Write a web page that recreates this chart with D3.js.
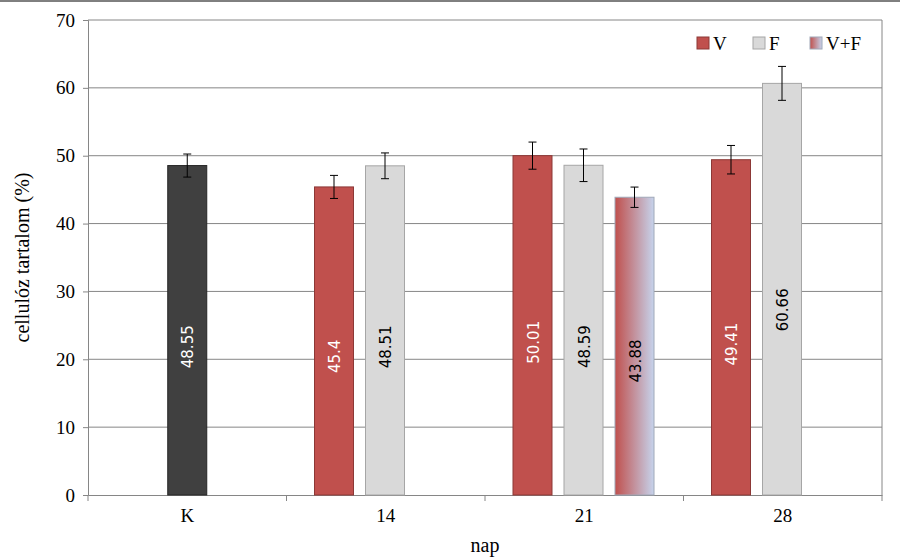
<!DOCTYPE html>
<html><head><meta charset="utf-8">
<script src="https://cdn.jsdelivr.net/npm/d3@7"></script>
<style>body{margin:0;background:#fff}</style>
</head><body>
<svg id="c" width="900" height="560"></svg>
<script>
// data
const days = ["K", "14", "21", "28"]
const seriesNames = ["V", "F", "V+F"]
const bars = [
  { day: "K", s: "K", slot: -1, v: 48.55, err: 1.7 },
  { day: "14", s: "V", slot: 0, v: 45.4, err: 1.7 },
  { day: "14", s: "F", slot: 1, v: 48.51, err: 1.9 },
  { day: "21", s: "V", slot: 0, v: 50.01, err: 2.0 },
  { day: "21", s: "F", slot: 1, v: 48.59, err: 2.4 },
  { day: "21", s: "V+F", slot: 2, v: 43.88, err: 1.5 },
  { day: "28", s: "V", slot: 0, v: 49.41, err: 2.1 },
  { day: "28", s: "F", slot: 1, v: 60.66, err: 2.5 }
]
const yTicks = [0, 10, 20, 30, 40, 50, 60, 70]

const serif = "'Liberation Serif', 'Times New Roman', 'DejaVu Serif', serif"
const fill = { K: "#404040", V: "#c0504d", F: "#d9d9d9", "V+F": "url(#grad)" }
const stroke = { K: "#262626", V: "#8c3836", F: "#a6a6a6", "V+F": "#a0a8b8" }
const labelColor = { K: "#fff", V: "#fff", F: "#000", "V+F": "#000" }

const svg = d3.select("#c")
const L = 88, R = 882, T = 20, B = 495

const defs = svg.append("defs")
const g = defs.append("linearGradient").attr("id", "grad")
g.append("stop").attr("offset", "0%").attr("stop-color", "#c0504d")
g.append("stop").attr("offset", "100%").attr("stop-color", "#c6d3ec")

const x = d3.scaleBand().domain(days).range([L, R])
const y = d3.scaleLinear().domain([0, 70]).range([B, T])
const bw = 39, step = 51

// top rule
svg.append("line").attr("x1", 0).attr("x2", 900).attr("y1", 1).attr("y2", 1).attr("stroke", "#000")

// grid
svg.append("g").selectAll("line").data(yTicks.slice(1)).join("line")
  .attr("x1", L).attr("x2", R).attr("y1", d => y(d)).attr("y2", d => y(d))
  .attr("stroke", "#868686")
svg.append("line").attr("x1", R).attr("x2", R).attr("y1", T).attr("y2", B).attr("stroke", "#868686")

// axes
svg.append("g").attr("transform", `translate(${L},0)`)
  .call(d3.axisLeft(y).tickValues(yTicks).tickSize(5).tickPadding(8))
  .attr("font-family", null)
  .call(a => a.selectAll("text").style("font-family", serif).style("font-size", "19px").attr("fill", "#000"))
  .call(a => a.selectAll("line,path").attr("stroke", "#868686"))
svg.append("g").attr("transform", `translate(0,${B})`)
  .call(d3.axisBottom(x).tickSize(0).tickPadding(14))
  .attr("font-family", null)
  .call(a => a.selectAll("text").style("font-family", serif).style("font-size", "19px").attr("fill", "#000"))
  .call(a => a.select("path").attr("stroke", "#868686"))
svg.append("g").selectAll("line").data(days.map(d => x(d)).concat([R])).join("line")
  .attr("x1", d => d).attr("x2", d => d).attr("y1", B).attr("y2", B + 6).attr("stroke", "#868686")

const cx = d => d.slot < 0 ? x(d.day) + x.bandwidth() / 2 : x(d.day) + 47.5 + d.slot * step

// bars
svg.append("g").selectAll("rect").data(bars).join("rect")
  .attr("x", d => cx(d) - bw / 2).attr("width", bw)
  .attr("y", d => y(d.v)).attr("height", d => B - y(d.v))
  .attr("fill", d => fill[d.s]).attr("stroke", d => stroke[d.s])

// error bars
const eb = svg.append("g").attr("stroke", "#000").attr("stroke-width", 1)
bars.forEach(d => {
  const c = cx(d)
  eb.append("line").attr("x1", c).attr("x2", c).attr("y1", y(d.v + d.err)).attr("y2", y(d.v - d.err))
  eb.append("line").attr("x1", c - 4).attr("x2", c + 4).attr("y1", y(d.v + d.err)).attr("y2", y(d.v + d.err))
  eb.append("line").attr("x1", c - 4).attr("x2", c + 4).attr("y1", y(d.v - d.err)).attr("y2", y(d.v - d.err))
})

// value labels
svg.append("g").selectAll("text").data(bars).join("text")
  .attr("transform", d => `translate(${cx(d) + 6},${y(d.v * 0.45)}) rotate(-90)`)
  .attr("text-anchor", "middle").style("font-family", "'DejaVu Sans', sans-serif").style("font-size", "15px")
  .attr("fill", d => labelColor[d.s]).text(d => d.v)

// axis titles
svg.append("text").attr("transform", `translate(29,${(T + B) / 2}) rotate(-90)`)
  .attr("text-anchor", "middle").style("font-family", serif).style("font-size", "20px")
  .text("cellulóz tartalom (%)")
svg.append("text").attr("x", (L + R) / 2).attr("y", 552).attr("text-anchor", "middle")
  .style("font-family", serif).style("font-size", "20px").text("nap")

// legend
const lx = [697, 753, 810]
const lg = svg.append("g")
seriesNames.forEach((s, i) => {
  lg.append("rect").attr("x", lx[i]).attr("y", 37).attr("width", 12).attr("height", 12)
    .attr("fill", fill[s]).attr("stroke", stroke[s])
  lg.append("text").attr("x", lx[i] + 16).attr("y", 50).style("font-family", serif)
    .style("font-size", "19px").text(s)
})
</script>
</body></html>
